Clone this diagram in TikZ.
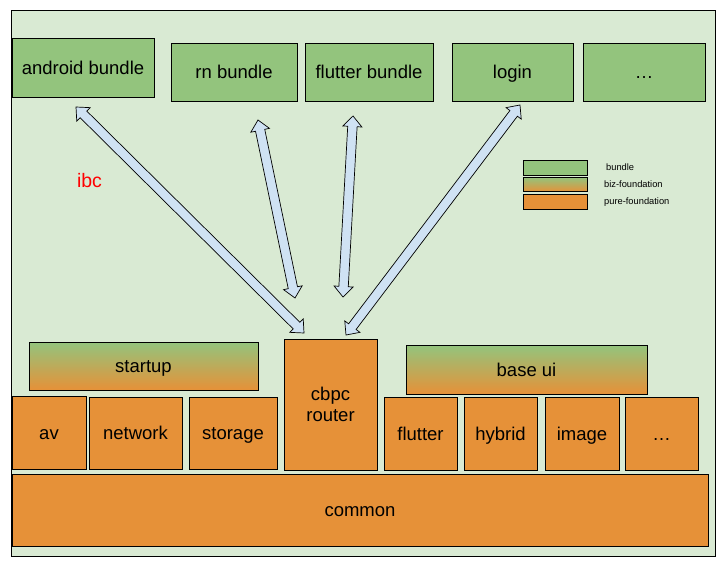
\documentclass[tikz,border=0pt]{standalone}
\usepackage{fontspec}
\setmainfont{Liberation Sans}
\usetikzlibrary{calc}
\definecolor{bgG}{HTML}{D9EAD3}
\definecolor{gB}{HTML}{93C47D}
\definecolor{oR}{HTML}{E69138}
\definecolor{aB}{HTML}{CFE2F3}
\newcommand{\blockarrow}[2]{%
  \draw[barrow] (#1)
    -- ($(#1)!10.5pt!(#2)!9.5pt!90:(#2)$)
    -- ($(#1)!10.5pt!(#2)!4.7pt!90:(#2)$)
    -- ($(#2)!10.5pt!(#1)!4.7pt!-90:(#1)$)
    -- ($(#2)!10.5pt!(#1)!9.5pt!-90:(#1)$)
    -- (#2)
    -- ($(#2)!10.5pt!(#1)!9.5pt!90:(#1)$)
    -- ($(#2)!10.5pt!(#1)!4.7pt!90:(#1)$)
    -- ($(#1)!10.5pt!(#2)!4.7pt!-90:(#2)$)
    -- ($(#1)!10.5pt!(#2)!9.5pt!-90:(#2)$)
    -- cycle;}
\tikzset{
  box/.style={draw=black, line width=0.8pt, inner sep=0pt, align=center,
    font=\fontsize{18.5}{21}\selectfont, text height=13.3pt, text depth=0pt},
  bundlebox/.style={box, fill=gB},
  purebox/.style={box, fill=oR},
  bizbox/.style={box, top color=gB, bottom color=oR, middle color=gB!50!oR},
  legbox/.style={draw=black, line width=0.8pt, inner sep=0pt, minimum width=64pt, minimum height=14.5pt},
  legtext/.style={anchor=west, inner sep=0pt, font=\fontsize{9.3}{11}\selectfont},
  barrow/.style={draw=black, line width=0.7pt, fill=aB, line join=miter},
}
\begin{document}
\begin{tikzpicture}[x=1pt,y=-1pt]
\useasboundingbox (0,0) rectangle (720,575);
\node[draw=black, line width=0.8pt, fill=bgG, minimum width=704pt, minimum height=546pt, inner sep=0pt] (bg) at (363,283) {};
% top bundles
\node[bundlebox, minimum width=142pt, minimum height=59pt] (android) at (83,67.5) {android bundle};
\node[bundlebox, minimum width=126pt, minimum height=58pt] (rn) at (234,72) {rn bundle};
\node[bundlebox, minimum width=128pt, minimum height=58pt] (flutterb) at (369,72) {flutter bundle};
\node[bundlebox, minimum width=121pt, minimum height=58pt] (login) at (512.5,72) {login};
\node[bundlebox, minimum width=122pt, minimum height=58pt] (dotsb) at (644,72) {\dots};
% legend
\node[legbox, fill=gB] (l1) at (555,168) {};
\node[legbox, top color=gB, bottom color=oR, middle color=gB!50!oR] (l2) at (555,184.5) {};
\node[legbox, fill=oR] (l3) at (555,202) {};
\node[legtext] (t1) at (606,167.5) {bundle};
\node[legtext] (t2) at (604,184.5) {biz-foundation};
\node[legtext] (t3) at (604,202) {pure-foundation};
\node[text=red, inner sep=0pt, font=\fontsize{19.5}{22}\selectfont] (ibc) at (89.5,181) {ibc};
% biz foundation
\node[bizbox, minimum width=229pt, minimum height=48pt] (startup) at (143.5,366) {startup};
\node[bizbox, minimum width=241pt, minimum height=49pt] (baseui) at (526.5,369.5) {base ui};
% pure foundation
\node[purebox, minimum width=74pt, minimum height=73pt] (av) at (49,432.5) {av};
\node[purebox, minimum width=93pt, minimum height=72pt] (network) at (135.5,433) {network};
\node[purebox, minimum width=88pt, minimum height=72pt] (storage) at (233,433) {storage};
\node[purebox, minimum width=93pt, minimum height=131pt, text height=, text depth=] (cbpc) at (330.5,404.5) {cbpc\\router};
\node[purebox, minimum width=73pt, minimum height=73pt] (flutter) at (420.5,433.5) {flutter};
\node[purebox, minimum width=73pt, minimum height=73pt] (hybrid) at (500.5,433.5) {hybrid};
\node[purebox, minimum width=74pt, minimum height=73pt] (image) at (582,433.5) {image};
\node[purebox, minimum width=73pt, minimum height=73pt] (dots) at (661.5,433.5) {\dots};
\node[purebox, minimum width=696pt, minimum height=72pt] (common) at (360,510) {common};
% arrows
\coordinate (a1s) at (76,107);
\coordinate (a1e) at (304,333);
\coordinate (a2s) at (258,120);
\coordinate (a2e) at (295,298);
\coordinate (a3s) at (353,116);
\coordinate (a3e) at (343,297);
\coordinate (a4s) at (520,105);
\coordinate (a4e) at (346,335);
\blockarrow{a1s}{a1e}
\blockarrow{a2s}{a2e}
\blockarrow{a3s}{a3e}
\blockarrow{a4s}{a4e}
\end{tikzpicture}
\end{document}
